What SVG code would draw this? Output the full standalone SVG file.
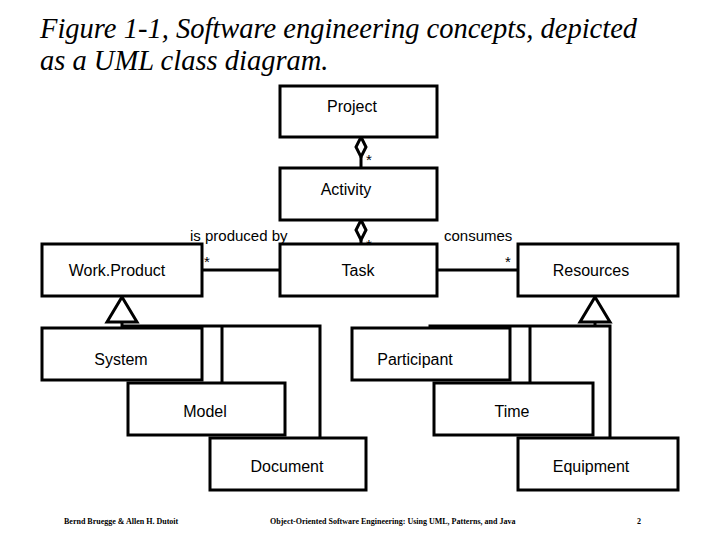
<svg xmlns="http://www.w3.org/2000/svg" width="720" height="540" viewBox="0 0 720 540">
<style>
.b{fill:#fff;stroke:#000;stroke-width:3}
.t{font-family:"Liberation Sans",Arial,sans-serif;font-size:16px;text-anchor:middle}
.l{font-family:"Liberation Sans",Arial,sans-serif;font-size:15px}
.c{fill:none;stroke:#000;stroke-width:3}
.f{font-family:"Liberation Serif",serif;font-size:8px;font-weight:bold}
</style>
<rect width="720" height="540" fill="#fff"/>
<text x="40" y="38" font-family="Liberation Serif,serif" font-style="italic" font-size="28.5">Figure 1-1, Software engineering concepts, depicted</text>
<text x="40" y="70" font-family="Liberation Serif,serif" font-style="italic" font-size="28.5">as a UML class diagram.</text>
<g id="connectors">
<path class="c" d="M361 157V168M361 240V244M202 270H280M437 270H518"/>
<path class="c" d="M361 137L366 147L361 157L356 147Z"/>
<path class="c" d="M361 220L366 230L361 240L356 230Z"/>
<path class="c" d="M122 297L137 322H107Z"/>
<path class="c" d="M122 322V328M122 326H320V438M222 326V383"/>
<path class="c" d="M595 297L610 322H580Z"/>
<path class="c" d="M595 322V326M430 328V326H610V438M530 326V383"/>
</g>
<g id="project"><rect class="b" x="280" y="86" width="157" height="51"/><text class="t" x="352" y="112">Project</text></g>
<g id="activity"><rect class="b" x="280" y="168" width="157" height="52"/><text class="t" x="346" y="195">Activity</text></g>
<g id="task"><rect class="b" x="280" y="244" width="157" height="52"/><text class="t" x="358" y="276">Task</text></g>
<g id="workproduct"><rect class="b" x="42" y="244" width="160" height="52"/><text class="t" x="117" y="276">Work.Product</text></g>
<g id="resources"><rect class="b" x="518" y="244" width="160" height="52"/><text class="t" x="591" y="276">Resources</text></g>
<g id="system"><rect class="b" x="42" y="328" width="160" height="52"/><text class="t" x="121" y="365">System</text></g>
<g id="model"><rect class="b" x="128" y="383" width="157" height="52"/><text class="t" x="205" y="417">Model</text></g>
<g id="document"><rect class="b" x="210" y="438" width="156" height="52"/><text class="t" x="287" y="472">Document</text></g>
<g id="participant"><rect class="b" x="352" y="328" width="158" height="52"/><text class="t" x="415" y="365">Participant</text></g>
<g id="time"><rect class="b" x="434" y="383" width="159" height="52"/><text class="t" x="512" y="417">Time</text></g>
<g id="equipment"><rect class="b" x="518" y="438" width="160" height="52"/><text class="t" x="591" y="472">Equipment</text></g>
<g id="labels">
<text class="l" x="366" y="165">*</text>
<text class="l" x="366" y="250">*</text>
<text class="l" x="204" y="267">*</text>
<text class="l" x="505" y="267">*</text>
<text class="l" x="190" y="241">is produced by</text>
<text class="l" x="444" y="241">consumes</text>
</g>
<text class="f" x="64" y="524">Bernd Bruegge &amp; Allen H. Dutoit</text>
<text class="f" x="270" y="524">Object-Oriented Software Engineering: Using UML, Patterns, and Java</text>
<text class="f" x="637" y="524">2</text>
</svg>
